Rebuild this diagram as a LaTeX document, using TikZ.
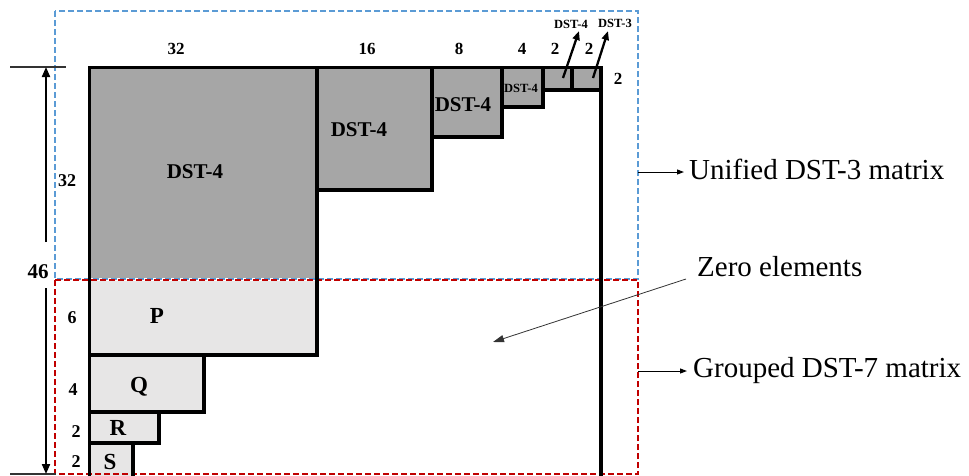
\documentclass[tikz,border=0pt]{standalone}
\usepackage{fontspec}
\setmainfont{Liberation Serif}
\usetikzlibrary{arrows.meta}
\definecolor{dkgray}{HTML}{A6A6A6}
\definecolor{ltgray}{HTML}{E7E6E6}
\definecolor{boxblue}{HTML}{5B9BD5}
\definecolor{boxred}{HTML}{C00000}
\begin{document}
\begin{tikzpicture}[x=1pt,y=-1pt,
  thickline/.style={line width=3.7pt, line join=miter},
  dashbox/.style={line width=2pt, dash pattern=on 6pt off 3pt},
  lbl/.style={inner sep=0pt, font=\fontsize{21}{21}\selectfont\bfseries},
  letlbl/.style={inner sep=0pt, font=\fontsize{23}{23}\selectfont\bfseries},
  tinylbl/.style={inner sep=0pt, font=\fontsize{12.5}{12.5}\selectfont\bfseries},
  numlbl/.style={inner sep=0pt, font=\fontsize{17}{17}\selectfont\bfseries},
  sidelbl/.style={inner sep=0pt, font=\fontsize{18}{18}\selectfont\bfseries},
  rtext/.style={inner sep=0pt, anchor=base west, font=\fontsize{29}{29}\selectfont},
  dimarrow/.style={line width=2pt, -{Triangle[length=10pt,width=8pt]}},
  ptrarrow/.style={line width=2.3pt, -{Triangle[length=9pt,width=7pt]}},
  thinarrow/.style={line width=1pt, -{Triangle[length=7pt,width=5pt]}},
  tick/.style={line width=1.5pt, draw=black!80}]
\useasboundingbox (0,0) rectangle (969,475);

% fills
\fill[dkgray] (89.5,67.5) rectangle (317,278);
\fill[dkgray] (317,67.5) rectangle (432,190);
\fill[dkgray] (432,67.5) rectangle (502,137);
\fill[dkgray] (502,67.5) rectangle (543,107);
\fill[dkgray] (543,67.5) rectangle (572,90);
\fill[dkgray] (572,67.5) rectangle (601,90);
\fill[ltgray] (89.5,281) rectangle (317,355);
\fill[ltgray] (89.5,355) rectangle (204,412);
\fill[ltgray] (89.5,412) rectangle (159,443);
\fill[ltgray] (89.5,443) rectangle (133,476);

% dashed group boxes
\draw[dashbox, boxblue] (55,11) rectangle (638,279);
\draw[dashbox, boxred] (55,280) rectangle (638,474);

% thick outlines
\draw[thickline] (89.5,476) -- (89.5,67.5) -- (601,67.5) -- (601,476);
\draw[thickline] (317,67.5) -- (317,355) -- (89.5,355);
\draw[thickline] (317,190) -- (432,190) -- (432,67.5);
\draw[thickline] (432,137) -- (502,137) -- (502,67.5);
\draw[thickline] (502,107) -- (543,107) -- (543,67.5);
\draw[thickline] (543,90) -- (601,90);
\draw[thickline] (572,67.5) -- (572,90);
\draw[thickline] (204,355) -- (204,412) -- (89.5,412);
\draw[thickline] (159,412) -- (159,443) -- (89.5,443);
\draw[thickline] (133,443) -- (133,476);

% block labels
\node[lbl] (b32) at (195,172) {DST-4};
\node[lbl] (b16) at (359,130) {DST-4};
\node[lbl] (b8) at (463,105) {DST-4};
\node[tinylbl] (b4) at (521,88) {DST-4};
\node[letlbl] (p) at (157,316) {P};
\node[letlbl] (q) at (139,387) {Q};
\node[letlbl] (r) at (118,428) {R};
\node[letlbl] (s) at (110,462) {S};

% top size labels
\node[numlbl] (t32) at (176,49) {32};
\node[numlbl] (t16) at (367,49) {16};
\node[numlbl] (t8) at (459,49) {8};
\node[numlbl] (t4) at (522,49) {4};
\node[numlbl] (t2a) at (555,49) {2};
\node[numlbl] (t2b) at (589,49) {2};
\node[numlbl] (r2) at (618,79) {2};

% small pointers
\node[tinylbl] (pd4) at (571,24) {DST-4};
\node[tinylbl] (pd3) at (615,23) {DST-3};
\coordinate (c2a) at (563,78);
\coordinate (c2b) at (593,78);
\draw[ptrarrow] (c2a) -- (579,31);
\draw[ptrarrow] (c2b) -- (608,31);

% left dimension
\node[sidelbl] (l32) at (67,181) {32};
\node[inner sep=0pt, font=\fontsize{21}{21}\selectfont\bfseries] (l46) at (38,272) {46};
\node[sidelbl] (l6) at (72,318) {6};
\node[sidelbl] (l4) at (73,390) {4};
\node[sidelbl] (l2a) at (76,432) {2};
\node[sidelbl] (l2b) at (76,462) {2};
\coordinate (tkTopL) at (10,67);
\coordinate (tkTopR) at (66,67);
\coordinate (tkBotL) at (10,474);
\coordinate (tkBotR) at (56,474);
\draw[tick] (tkTopL) -- (tkTopR);
\draw[tick] (tkBotL) -- (tkBotR);
\coordinate (upS) at (46,242);
\coordinate (upE) at (46,67);
\coordinate (dnS) at (46,288);
\coordinate (dnE) at (46,474);
\draw[dimarrow] (upS) -- (upE);
\draw[dimarrow] (dnS) -- (dnE);

% right annotations
\node[rtext] (unified) at (689,179) {Unified DST-3 matrix};
\node[rtext] (grouped) at (693,377) {Grouped DST-7 matrix};
\node[rtext] (zero) at (697,276) {Zero elements};
\coordinate (ub) at (638,172);
\coordinate (gb) at (638,371);
\draw[thinarrow] (ub) -- (684,172);
\draw[thinarrow] (gb) -- (687,371);
\coordinate (zs) at (686,279);
\coordinate (ze) at (493,342);
\draw[line width=0.8pt, draw=black!80, -{Triangle[length=11pt,width=7pt]}] (zs) -- (ze);
\end{tikzpicture}
\end{document}
